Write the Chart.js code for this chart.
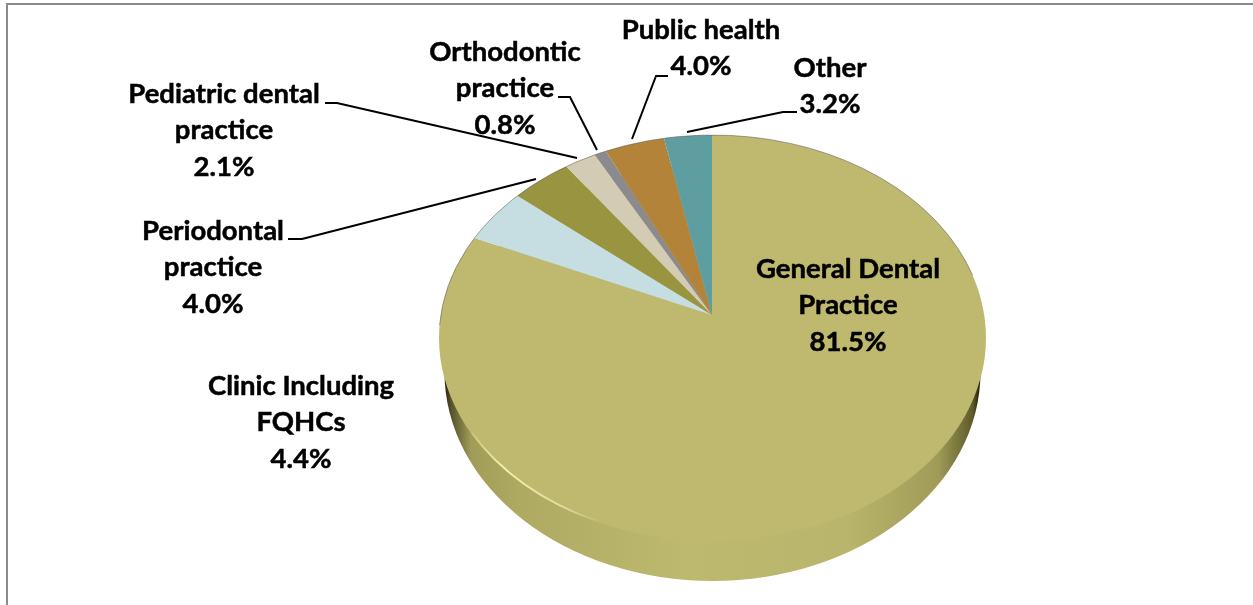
<!DOCTYPE html>
<html>
<head>
<meta charset="utf-8">
<title>Practice setting pie</title>
<style>
html, body { margin: 0; padding: 0; background: #fff; overflow: hidden; }
canvas { display: block; }
</style>
<script src="https://cdn.jsdelivr.net/npm/chart.js@4/dist/chart.umd.min.js"></script>
</head>
<body>
<canvas id="pie" width="1253" height="605"></canvas>
<script>
"use strict";

const categories = ["General Dental\nPractice", "Clinic Including\nFQHCs", "Periodontal\npractice", "Pediatric dental\npractice", "Orthodontic\npractice", "Public health", "Other"];
const shares = [81.5, 4.4, 4.0, 2.1, 0.8, 4.0, 3.2];
const sliceColors = ["#BFB86F", "#C6DEE1", "#98943F", "#D3CBB3", "#8B8B8F", "#B3833A", "#5F9EA0"];

// label centres, one per category, first line y and line step
const labelX = [848, 301, 213, 224, 505, 701, 830];
const labelY = [269, 386, 231, 94, 52, 30, 68];
const lineStep = 36.4;

// leader polylines, label side first
const leaders = [
    [[325, 103], [337, 103], [577, 158]],
    [[288, 239], [302, 239], [536, 179]],
    [[558, 97], [570, 97], [597, 150]],
    [[668, 76], [656, 76], [632, 139]],
    [[797, 112], [783, 112], [687, 132]]
];

// the disc is tilted: slices fan out of an apex above the middle of the outline
const apex = { x: 712, y: 315, squash: 0.75 };
const face = { x: 712.5, y: 338, rx: 273.5, ry: 203 };
const side = { x: 712.5, y: 372, rx: 268, ry: 209 };

function ellipsePath(ctx, e) {
    ctx.beginPath();
    ctx.ellipse(e.x, e.y, e.rx, e.ry, 0, 0, Math.PI * 2);
}

const tiltedDisc = {
    id: "tiltedDisc",
    beforeDatasetsDraw(chart) {
        const ctx = chart.ctx;
        const area = chart.chartArea;
        let rim = ctx.createLinearGradient(side.x - side.rx, 0, side.x + side.rx, 0);
        rim.addColorStop(0, "#24220a");
        rim.addColorStop(0.012, "#55522a");
        rim.addColorStop(0.05, "#a19d58");
        rim.addColorStop(0.14, "#aeaa62");
        rim.addColorStop(0.45, "#bdb96f");
        rim.addColorStop(0.75, "#b9b56c");
        rim.addColorStop(0.92, "#a09c58");
        rim.addColorStop(0.985, "#5f5c2a");
        rim.addColorStop(1, "#1e1c06");
        ctx.save();
        ctx.fillStyle = rim;
        ellipsePath(ctx, side);
        ctx.fill();
        ctx.restore();

        ctx.save();
        ellipsePath(ctx, face);
        ctx.clip();
        ctx.translate(apex.x, apex.y);
        ctx.scale(1, apex.squash);
        ctx.translate(-(area.left + area.right) / 2, -(area.top + area.bottom) / 2);
    },
    afterDatasetsDraw(chart) {
        const ctx = chart.ctx;
        ctx.restore();

        // thin grey edge on the far side, bright bevel on the near left
        ctx.save();
        ctx.strokeStyle = "rgba(95,95,90,0.55)";
        ctx.lineWidth = 1;
        ctx.beginPath();
        ctx.ellipse(face.x, face.y, face.rx, face.ry, 0, Math.PI * 1.02, Math.PI * 1.9);
        ctx.stroke();
        let glint = ctx.createLinearGradient(465, 420, 600, 525);
        glint.addColorStop(0, "rgba(250,248,190,0)");
        glint.addColorStop(0.35, "rgba(250,248,190,0.9)");
        glint.addColorStop(0.75, "rgba(250,248,190,0.6)");
        glint.addColorStop(1, "rgba(250,248,190,0)");
        ctx.strokeStyle = glint;
        ctx.lineWidth = 1.8;
        ctx.beginPath();
        ctx.ellipse(face.x, face.y, face.rx - 1, face.ry - 1, 0, Math.PI * 0.64, Math.PI * 0.845);
        ctx.stroke();
        ctx.restore();
    },
    afterDraw(chart) {
        const ctx = chart.ctx;
        ctx.save();
        ctx.strokeStyle = "#000";
        ctx.lineWidth = 2;
        leaders.forEach(function(pts) {
            ctx.beginPath();
            pts.forEach(function(p, i) {
                if (i == 0) ctx.moveTo(p[0], p[1]); else ctx.lineTo(p[0], p[1]);
            });
            ctx.stroke();
        });
        ctx.fillStyle = "#000";
        ctx.font = "bold 27.5px Lato";
        ctx.textAlign = "center";
        ctx.textBaseline = "middle";
        ctx.lineWidth = 0.5;
        categories.forEach(function(name, i) {
            let lines = name.split("\n");
            lines.push(shares[i].toFixed(1) + "%");
            lines.forEach(function(line, k) {
                ctx.fillText(line, labelX[i], labelY[i] + k * lineStep);
                ctx.strokeText(line, labelX[i], labelY[i] + k * lineStep);
            });
        });
        // frame of the chart box, only its top and left edges are in view
        ctx.strokeStyle = "#8a8a8a";
        ctx.lineWidth = 2;
        ctx.beginPath();
        ctx.moveTo(7, 605);
        ctx.lineTo(7, 4);
        ctx.lineTo(1253, 4);
        ctx.stroke();
        ctx.restore();
    }
};

new Chart(document.getElementById("pie"), {
    type: "pie",
    data: {
        labels: categories,
        datasets: [ {
            data: shares,
            backgroundColor: sliceColors,
            borderWidth: 0,
            clip: false
        } ]
    },
    options: {
        responsive: false,
        animation: false,
        radius: 330,
        plugins: {
            legend: { display: false },
            tooltip: { enabled: false }
        }
    },
    plugins: [ tiltedDisc ]
});
</script>
</body>
</html>
